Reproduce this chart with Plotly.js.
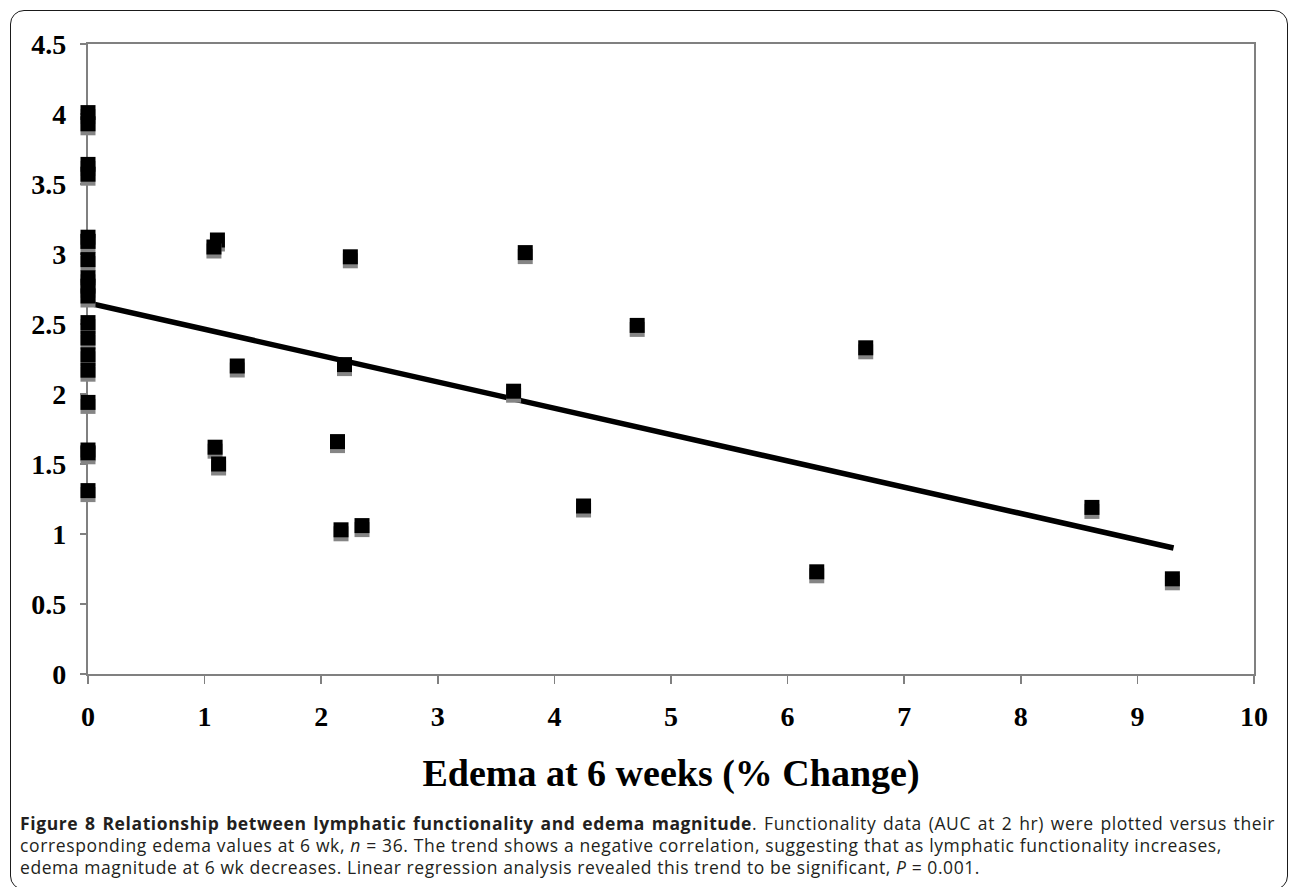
<!DOCTYPE html>
<html>
<head>
<meta charset="utf-8">
<script src="https://cdn.plot.ly/plotly-3.0.1.min.js"></script>
<style>
  html, body { margin: 0; padding: 0; background: #ffffff; }
  #wrap { position: relative; width: 1290px; height: 887px; overflow: hidden; background: #fff; }
  #chart { position: absolute; left: 0; top: 0; width: 1290px; height: 887px; }
  #frame { position: absolute; left: 10px; top: 10px; width: 1278px; height: 880px;
           border: 1.6px solid #1a1a1a; border-radius: 14px; box-sizing: border-box; pointer-events: none; }
  .cap { position: absolute; left: 20px; font-family: "Open Sans", "Noto Sans", sans-serif; font-size: 17.5px;
         color: #231f20; white-space: nowrap; line-height: 22px; }
  #c1 { top: 812px; width: 1255px; text-align: justify; text-align-last: justify; white-space: normal; }
  #c2 { top: 834px; }
  #c3 { top: 856px; }
  .scatterlayer .trace path.point { filter: drop-shadow(0px 4px 0px #858585); }
</style>
</head>
<body>
<div id="wrap">
  <div id="chart"></div>
  <div id="frame"></div>
  <div class="cap" id="c1"><b>Figure 8 Relationship between lymphatic functionality and edema magnitude</b>. Functionality data (AUC at 2 hr) were plotted versus their</div>
  <div class="cap" id="c2">corresponding edema values at 6 wk, <i>n</i> = 36. The trend shows a negative correlation, suggesting that as lymphatic functionality increases,</div>
  <div class="cap" id="c3">edema magnitude at 6 wk decreases. Linear regression analysis revealed this trend to be significant, <i>P</i> = 0.001.</div>
</div>
<script>
// Edema at 6 weeks (% change) for each animal
const edemaPct = [
  0, 0, 0, 0, 0, 0, 0, 0, 0, 0, 0, 0, 0, 0, 0, 0, 0, 0,
  1.11, 1.08, 2.25, 3.75, 1.28, 2.20, 3.65, 1.09, 1.12, 2.14, 2.17, 2.35,
  4.71, 6.67, 4.25, 6.25, 8.61, 9.30
];
// Lymphatic functionality (AUC at 2 hr)
const aucValues = [
  4.01, 3.93, 3.64, 3.57, 3.12, 3.09, 2.96, 2.83, 2.77, 2.70, 2.51, 2.40, 2.28, 2.17, 1.94, 1.60, 1.58, 1.31,
  3.10, 3.05, 2.98, 3.01, 2.20, 2.21, 2.02, 1.62, 1.50, 1.66, 1.03, 1.06,
  2.49, 2.33, 1.20, 0.73, 1.19, 0.68
];
// Linear trend line end points
const trendX = [0, 9.31];
const trendY = [2.65, 0.90];

const xTickVals = [0, 1, 2, 3, 4, 5, 6, 7, 8, 9, 10];
const xTickText = ['0', '1', '2', '3', '4', '5', '6', '7', '8', '9', '10'];
const yTickVals = [0, 0.5, 1, 1.5, 2, 2.5, 3, 3.5, 4, 4.5];
const yTickText = ['0', '0.5', '1', '1.5', '2', '2.5', '3', '3.5', '4', '4.5'];

const xTitle = 'Edema at 6 weeks (% Change)';

const serif = '"Liberation Serif", "Times New Roman", Times, serif';

const traces = [
  {
    type: 'scatter', mode: 'lines', x: trendX, y: trendY,
    line: { color: '#000000', width: 5.5 }, cliponaxis: false, hoverinfo: 'skip'
  },
  {
    type: 'scatter', mode: 'markers', x: edemaPct, y: aucValues,
    marker: { symbol: 'square', size: 15, color: '#000000', line: { width: 0 } },
    cliponaxis: false
  }
];

const axisCommon = {
  showgrid: false, zeroline: false, showline: true, linecolor: '#808080', linewidth: 2.2,
  mirror: true, ticks: 'outside', tickcolor: '#808080', tickwidth: 1.5,
  layer: 'below traces',
  tickfont: { family: serif, size: 28, color: '#000000', weight: 'bold' }
};

const layout = {
  width: 1290, height: 887,
  margin: { l: 88, r: 36, t: 44, b: 213 },
  paper_bgcolor: 'rgba(0,0,0,0)', plot_bgcolor: '#ffffff',
  showlegend: false,
  xaxis: Object.assign({}, axisCommon, {
    range: [0, 10], tickmode: 'array', tickvals: xTickVals, ticktext: xTickText,
    ticklen: 8, ticklabelstandoff: 8,
    title: { text: xTitle, font: { family: serif, size: 38, color: '#000000', weight: 'bold' }, standoff: 29 }
  }),
  yaxis: Object.assign({}, axisCommon, {
    range: [0, 4.5], tickmode: 'array', tickvals: yTickVals, ticktext: yTickText,
    ticklen: 6, ticklabelstandoff: 8
  })
};

Plotly.newPlot('chart', traces, layout, { displayModeBar: false, staticPlot: true });

// Spread caption glyphs so each line spans the same width as in the reference
function fitCaption() {
  const c2 = document.getElementById('c2');
  const c3 = document.getElementById('c3');
  const c1 = document.getElementById('c1');
  function spacingFor(el, targetWidth) {
    el.style.letterSpacing = '0px';
    const w = el.getBoundingClientRect().width;
    return (targetWidth - w) / el.textContent.length;
  }
  const s2 = spacingFor(c2, 1202);
  const s3 = spacingFor(c3, 960);
  c2.style.letterSpacing = s2 + 'px';
  c3.style.letterSpacing = s3 + 'px';
  c1.style.letterSpacing = ((s2 + s3) / 2) + 'px';
}
if (document.fonts && document.fonts.ready) { document.fonts.ready.then(fitCaption); } else { fitCaption(); }
</script>
</body>
</html>
